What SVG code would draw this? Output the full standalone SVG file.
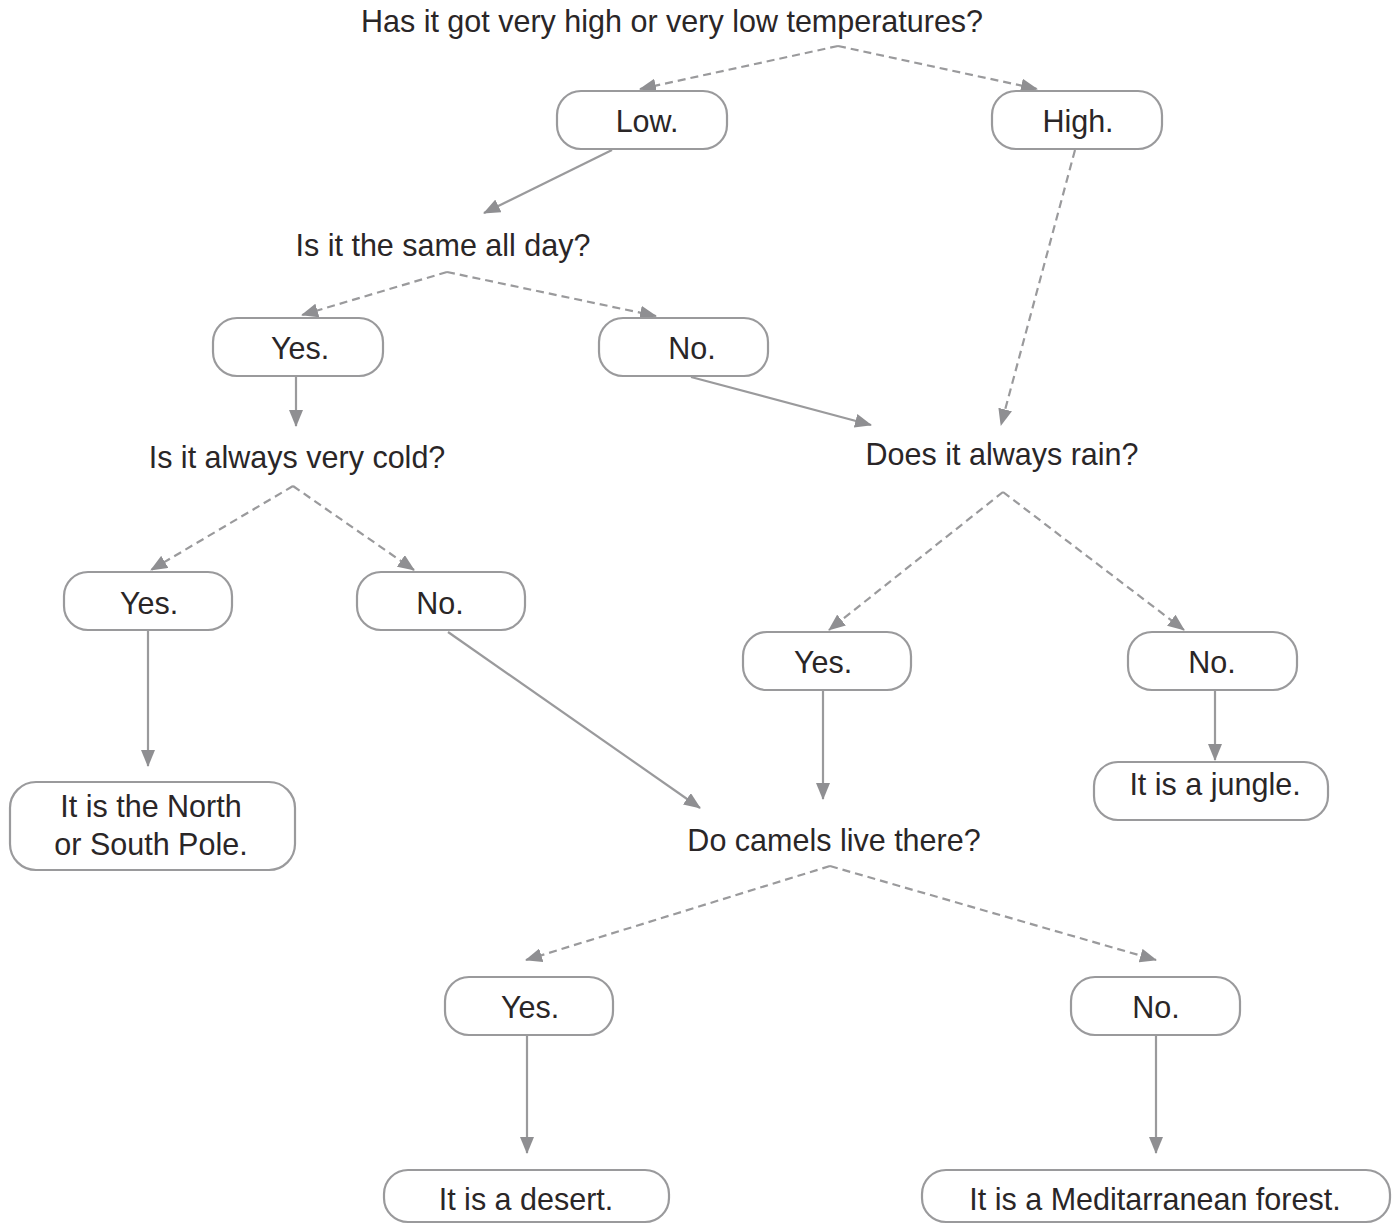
<svg xmlns="http://www.w3.org/2000/svg" width="1396" height="1224" viewBox="0 0 1396 1224">
<defs>
<marker id="ah" markerUnits="userSpaceOnUse" markerWidth="17" markerHeight="14" refX="16" refY="7" orient="auto">
<path d="M0,0 L17,7 L0,14 Z" fill="#8f8f92"/>
</marker>
<style>
.box{fill:#fff;stroke:#9a9a9c;stroke-width:2.2}
.t{font-family:"Liberation Sans",Arial,sans-serif;font-size:30.5px;fill:#2a2627;text-anchor:middle}
.c{fill:none;stroke:#9a9a9c;stroke-width:2.2;marker-end:url(#ah)}
.d{stroke-dasharray:8 5}
</style>
</defs>
<rect width="1396" height="1224" fill="#fff"/>
<g id="connectors">
<line class="c d" x1="838" y1="46" x2="640" y2="89"/>
<line class="c d" x1="838" y1="46" x2="1037" y2="89"/>
<line class="c" x1="612" y1="150" x2="484" y2="213"/>
<line class="c d" x1="1075" y1="150" x2="1001" y2="425"/>
<line class="c d" x1="447" y1="272" x2="302" y2="315"/>
<line class="c d" x1="447" y1="272" x2="656" y2="316"/>
<line class="c" x1="296" y1="377" x2="296" y2="426"/>
<line class="c" x1="691" y1="377" x2="871" y2="425"/>
<line class="c d" x1="293" y1="486" x2="151" y2="570"/>
<line class="c d" x1="293" y1="486" x2="414" y2="570"/>
<line class="c" x1="148" y1="631" x2="148" y2="766"/>
<line class="c" x1="448" y1="632" x2="700" y2="808"/>
<line class="c d" x1="1003" y1="492" x2="829" y2="630"/>
<line class="c d" x1="1003" y1="492" x2="1184" y2="630"/>
<line class="c" x1="823" y1="691" x2="823" y2="799"/>
<line class="c" x1="1215" y1="691" x2="1215" y2="760"/>
<line class="c d" x1="830" y1="866" x2="526" y2="960"/>
<line class="c d" x1="830" y1="866" x2="1156" y2="960"/>
<line class="c" x1="527" y1="1036" x2="527" y2="1153"/>
<line class="c" x1="1156" y1="1036" x2="1156" y2="1153"/>
</g>
<g id="q1"><text class="t" x="672" y="32">Has it got very high or very low temperatures?</text></g>
<g id="low"><rect class="box" x="557" y="91" width="170" height="58" rx="24"/><text class="t" x="647" y="132">Low.</text></g>
<g id="high"><rect class="box" x="992" y="91" width="170" height="58" rx="24"/><text class="t" x="1078" y="132">High.</text></g>
<g id="q2"><text class="t" x="443" y="256">Is it the same all day?</text></g>
<g id="yes1"><rect class="box" x="213" y="318" width="170" height="58" rx="24"/><text class="t" x="300" y="359">Yes.</text></g>
<g id="no1"><rect class="box" x="599" y="318" width="169" height="58" rx="24"/><text class="t" x="692" y="359">No.</text></g>
<g id="q3"><text class="t" x="297" y="468">Is it always very cold?</text></g>
<g id="q4"><text class="t" x="1002" y="465">Does it always rain?</text></g>
<g id="yes2"><rect class="box" x="64" y="572" width="168" height="58" rx="24"/><text class="t" x="149" y="614">Yes.</text></g>
<g id="no2"><rect class="box" x="357" y="572" width="168" height="58" rx="24"/><text class="t" x="440" y="614">No.</text></g>
<g id="yes3"><rect class="box" x="743" y="632" width="168" height="58" rx="24"/><text class="t" x="823" y="673">Yes.</text></g>
<g id="no3"><rect class="box" x="1128" y="632" width="169" height="58" rx="24"/><text class="t" x="1212" y="673">No.</text></g>
<g id="pole"><rect class="box" x="10" y="782" width="285" height="88" rx="26"/><text class="t" x="151" y="817">It is the North</text><text class="t" x="151" y="855">or South Pole.</text></g>
<g id="jungle"><rect class="box" x="1094" y="762" width="234" height="58" rx="24"/><text class="t" x="1215" y="795">It is a jungle.</text></g>
<g id="q5"><text class="t" x="834" y="851">Do camels live there?</text></g>
<g id="yes4"><rect class="box" x="445" y="977" width="168" height="58" rx="24"/><text class="t" x="530" y="1018">Yes.</text></g>
<g id="no4"><rect class="box" x="1071" y="977" width="169" height="58" rx="24"/><text class="t" x="1156" y="1018">No.</text></g>
<g id="desert"><rect class="box" x="384" y="1170" width="285" height="52" rx="24"/><text class="t" x="526" y="1210">It is a desert.</text></g>
<g id="forest"><rect class="box" x="922" y="1170" width="468" height="52" rx="24"/><text class="t" x="1155" y="1210">It is a Meditarranean forest.</text></g>
</svg>
